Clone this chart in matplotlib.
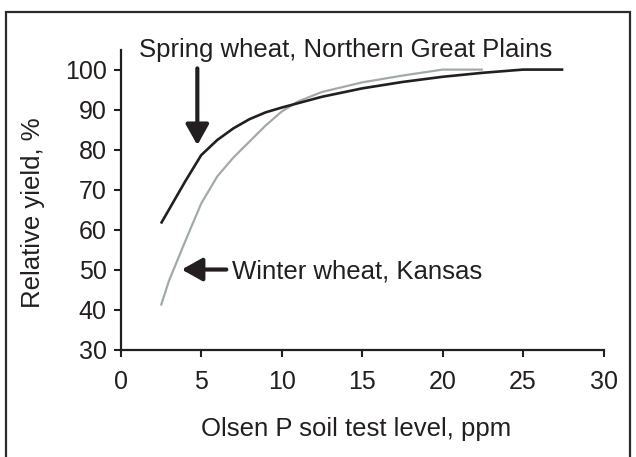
import matplotlib.pyplot as plt
from matplotlib.patches import Rectangle

plt.rcParams['font.family'] = ['Liberation Sans', 'DejaVu Sans']

# Spring wheat, Northern Great Plains (black curve)
spring_x = [2.5, 3, 4, 5, 6, 7, 8, 9, 10, 12.5, 15, 17.5, 20, 22.5, 25, 27.5]
spring_y = [61.5, 65, 72, 78.6, 82.4, 85.3, 87.6, 89.3, 90.5, 93.2, 95.3, 96.9, 98.2, 99.2, 100, 100]

# Winter wheat, Kansas (grey curve)
winter_x = [2.5, 3, 4, 5, 6, 7, 8, 9, 10, 11, 12.5, 15, 17.5, 20, 22.5]
winter_y = [41, 47.2, 57, 66.5, 73.3, 78, 82, 86, 89.5, 92, 94.4, 96.8, 98.5, 100, 100]

x_ticks = [0, 5, 10, 15, 20, 25, 30]
y_ticks = [30, 40, 50, 60, 70, 80, 90, 100]

dark = '#231f20'
grey = '#a2a9ad'

fig = plt.figure(figsize=(6.36, 4.57), dpi=100)
ax = fig.add_axes([0.1898, 0.2352, 0.7592, 0.6554])

ax.plot(winter_x, winter_y, color=grey, lw=1.6, solid_capstyle='butt')
ax.plot(spring_x, spring_y, color=dark, lw=1.9, solid_capstyle='butt')

ax.set_xlim(0, 30)
ax.set_ylim(30, 104.9)
ax.set_xticks(x_ticks)
ax.set_yticks(y_ticks)

for side in ['top', 'right']:
    ax.spines[side].set_visible(False)
for side in ['left', 'bottom']:
    ax.spines[side].set_color(dark)
    ax.spines[side].set_linewidth(1.6)

ax.tick_params(axis='both', direction='out', length=5, width=1.5,
               colors=dark, labelsize=18, labelcolor=dark)
ax.tick_params(axis='x', pad=10)
ax.tick_params(axis='y', pad=5)

ax.set_xlabel('Olsen P soil test level, ppm', fontsize=18.5, color=dark, va='center')
ax.xaxis.set_label_coords(0.488, -0.267)
ax.set_ylabel('Relative yield, %', fontsize=18.5, color=dark, va='center', ha='center')
ax.yaxis.set_label_coords(-0.1816, 0.457)

# annotations
ax.text(14.0, 103.2, 'Spring wheat, Northern Great Plains', fontsize=18.5,
        color=dark, ha='center', va='baseline', clip_on=False)
ax.annotate('', xy=(4.76, 81.1), xytext=(4.76, 100.3),
            arrowprops=dict(arrowstyle='-|>,head_length=0.5,head_width=0.28',
                            lw=3, color=dark, mutation_scale=25,
                            shrinkA=0, shrinkB=0))

ax.text(6.9, 47.8, 'Winter wheat, Kansas', fontsize=18.5,
        color=dark, ha='left', va='baseline')
ax.annotate('', xy=(3.79, 50), xytext=(6.56, 50),
            arrowprops=dict(arrowstyle='-|>,head_length=0.5,head_width=0.28',
                            lw=3, color=dark, mutation_scale=25,
                            shrinkA=0, shrinkB=0))

# frame round the whole figure (bottom edge runs off the image)
fig.patches.append(Rectangle((6 / 636, -0.05), 624 / 636, 1.05 - 12 / 457,
                             transform=fig.transFigure, fill=False,
                             edgecolor='#2b2b2b', lw=1.6))

fig.savefig('out.png', dpi=100)
